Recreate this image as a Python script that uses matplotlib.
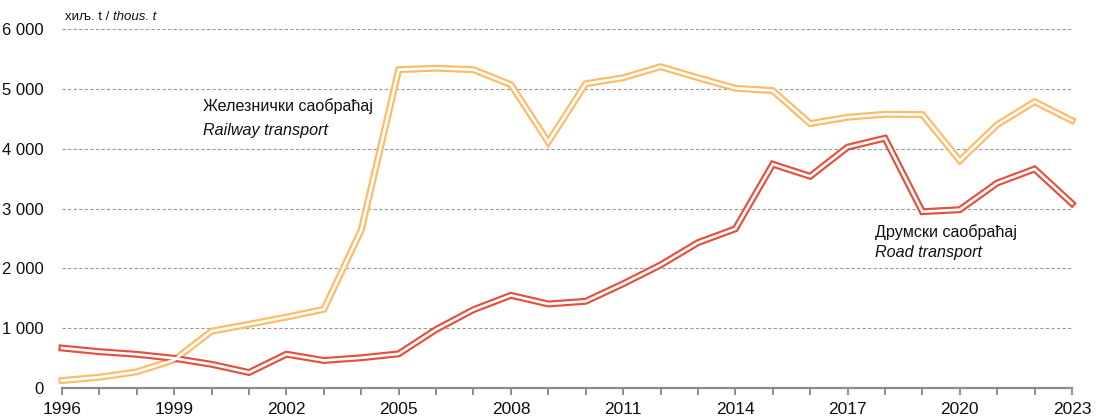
import matplotlib
matplotlib.use("Agg")
import matplotlib.pyplot as plt
from matplotlib import font_manager
from matplotlib.ticker import FuncFormatter, MultipleLocator

names = {f.name for f in font_manager.fontManager.ttflist}
FONT = "Liberation Sans Narrow" if "Liberation Sans Narrow" in names else "Liberation Sans"
plt.rcParams['font.family'] = [FONT, 'DejaVu Sans']

years = list(range(1996, 2024))
rail = [125, 180, 270, 470, 950, 1065, 1185, 1315, 2640, 5320, 5345, 5320, 5070, 4110,
        5085, 5185, 5370, 5185, 5010, 4970, 4420, 4525, 4575, 4570, 3800, 4400, 4785, 4470]
road = [668, 607, 563, 496, 396, 259, 565, 460, 505, 571, 978, 1309, 1549, 1404,
        1449, 1741, 2056, 2429, 2660, 3741, 3538, 4025, 4175, 2947, 2980, 3426, 3660, 3084]
xtick_labels = [1996, 1999, 2002, 2005, 2008, 2011, 2014, 2017, 2020, 2023]

RAIL_C = "#FDBB66"
ROAD_C = "#E4503E"
TXT = "#111111"

fig = plt.figure(figsize=(11, 4.2), dpi=100)
ax = fig.add_axes([62/1100, 1-388/420, (1072-62)/1100, (388-29)/420])

for vals, c in ((rail, RAIL_C), (road, ROAD_C)):
    ax.plot(years, vals, color=c, lw=5.0, solid_joinstyle='miter', zorder=3, clip_on=False)
    ax.plot(years, vals, color="white", lw=1.9, solid_joinstyle='miter', zorder=4, clip_on=False)

ax.set_xlim(1996, 2023)
ax.set_ylim(0, 6000)
ax.yaxis.set_major_locator(MultipleLocator(1000))
ax.yaxis.set_major_formatter(FuncFormatter(lambda v, p: f"{int(v):,}".replace(",", " ")))
ax.set_xticks(years, minor=False)
ax.set_xticklabels([str(y) if y in xtick_labels else "" for y in years])

for s in ("top", "right", "left"):
    ax.spines[s].set_visible(False)
ax.spines["bottom"].set_color("#8c8c8c")
ax.spines["bottom"].set_linewidth(1.6)
ax.tick_params(axis="x", length=5, width=1.4, color="#8c8c8c", pad=5, labelsize=12.5, labelcolor=TXT)
ax.tick_params(axis="y", length=0, pad=13, labelsize=12, labelcolor=TXT)
ax.grid(axis="y", color="#9a9a9a", linestyle=(0, (3, 2)), linewidth=0.8)
ax.set_axisbelow(True)

# unit label: normal + italic part
t1 = fig.text(65/1100, 1-17/420, "хиљ. t / ", fontsize=9.5, va="center", ha="left", color=TXT)
fig.canvas.draw()
bb = t1.get_window_extent(renderer=fig.canvas.get_renderer())
fig.text(bb.x1/1100, 1-17/420, "thous. t", fontsize=9.5, style="italic", va="center", ha="left", color=TXT)

def px(xp, yp):
    return xp/1100, 1-yp/420

fig.text(*px(203, 106), "Железнички саобраћај", fontsize=11.6, ha="left", va="center", color=TXT)
fig.text(*px(203, 130), "Railway transport", fontsize=11.6, style="italic", ha="left", va="center", color=TXT)
fig.text(*px(875, 232), "Друмски саобраћај", fontsize=11.6, ha="left", va="center", color=TXT)
fig.text(*px(875, 253), "Road transport", fontsize=11.6, style="italic", ha="left", va="center", color=TXT)

fig.savefig("out.png", dpi=100)
